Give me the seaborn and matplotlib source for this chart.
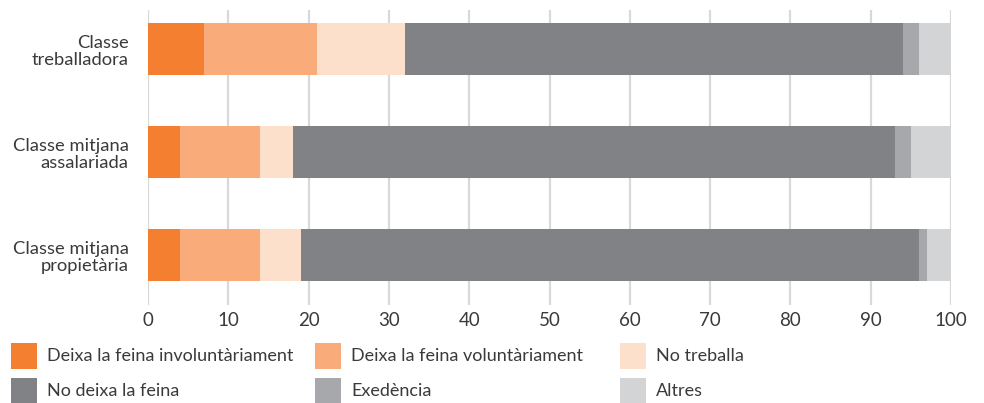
import pandas as pd
import matplotlib.pyplot as plt
import seaborn as sns
from matplotlib.patches import Rectangle

# data
classes = ["Classe\ntreballadora", "Classe mitjana\nassalariada", "Classe mitjana\npropietària"]
categories = ["Deixa la feina involuntàriament", "Deixa la feina voluntàriament", "No treballa",
              "No deixa la feina", "Exedència", "Altres"]
involuntari = [7, 4, 4]
voluntari = [14, 10, 10]
no_treballa = [11, 4, 5]
no_deixa = [62, 75, 77]
excedencia = [2, 2, 1]
altres = [4, 5, 3]
colors = ["#F47F31", "#F9AC7A", "#FDE0CB", "#818286", "#A7A8AB", "#D3D4D6"]

series = [involuntari, voluntari, no_treballa, no_deixa, excedencia, altres]


def build_df():
    df = pd.DataFrame({"classe": classes})
    for cat, vals in zip(categories, series):
        df[cat] = vals
    # cumulative ends for stacking
    cum = df[categories].cumsum(axis=1)
    return df, cum


def plot(df, cum):
    sns.set_style("white")
    plt.rcParams["font.family"] = ["Lato", "DejaVu Sans"]
    fig = plt.figure(figsize=(9.84, 4.03), dpi=100)
    ax = fig.add_axes([148 / 984, 1 - 305 / 403, (951 - 148) / 984, 295 / 403])

    # draw longest first so shorter segments sit on top
    for cat, col in reversed(list(zip(categories, colors))):
        sns.barplot(x=cum[cat], y=df["classe"], color=col, width=0.505,
                    saturation=1, orient="h", ax=ax, linewidth=0)

    ax.set_xlim(0, 100)
    ax.set_ylim(2.485, -0.379)
    ax.set_xticks(range(0, 101, 10))
    ax.grid(axis="x", color="#D9D9D9", linewidth=1.6)
    ax.set_axisbelow(True)
    for s in ax.spines.values():
        s.set_visible(False)
    ax.tick_params(axis="both", length=0, colors="#3A3A3A")
    ax.tick_params(axis="x", labelsize=13.5, pad=5)
    ax.tick_params(axis="y", labelsize=13.2, pad=14)
    for lbl in ax.get_yticklabels():
        lbl.set_linespacing(1.1)
    ax.set_xlabel("")
    ax.set_ylabel("")

    # legend, two rows of three
    col_x = [11, 315, 620]
    row_y = [343, 378]
    for i, (cat, col) in enumerate(zip(categories, colors)):
        x = col_x[i % 3]
        y = row_y[i // 3]
        fig.add_artist(Rectangle((x / 984, 1 - (y + 26) / 403), 26 / 984, 26 / 403,
                                 transform=fig.transFigure, color=col, linewidth=0))
        fig.text((x + 36) / 984, 1 - (y + 13) / 403, cat, fontsize=13,
                 color="#3A3A3A", va="center", ha="left")

    fig.savefig("out.png", dpi=100)


if __name__ == "__main__":
    df, cum = build_df()
    plot(df, cum)
